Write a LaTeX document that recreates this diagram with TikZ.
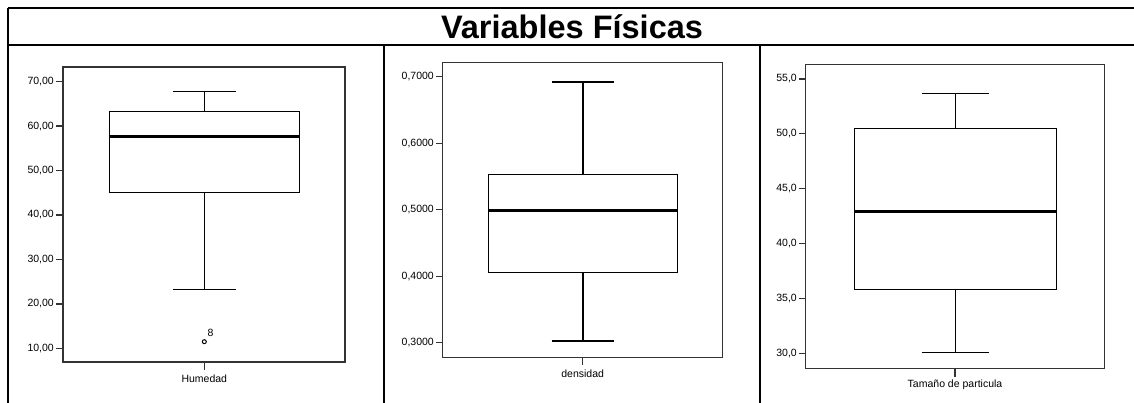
\documentclass[tikz,border=0pt]{standalone}
\usepackage{fontspec}
\setmainfont{Liberation Sans}

\begin{document}
\begin{tikzpicture}[x = 1pt, y = -1pt,
    rule/.style = {line width = 2pt, black},
    frame/.style = {line width = 1.2pt, black!80},
    boxline/.style = {line width = 1pt, black},
    median/.style = {line width = 3pt, black},
    ticklab/.style = {anchor = east, inner sep = 0pt, font = \fontsize{10.5}{12}\selectfont},
    axislab/.style = {inner sep = 0pt, font = \fontsize{10.5}{12}\selectfont}]
\useasboundingbox (0,0) rectangle (1134,403);

% table
\draw [rule] (8,8) -- (1134,8);
\draw [rule] (8,45) -- (1134,45);
\draw [rule] (8,8) -- (8,403);
\draw [rule] (384,45) -- (384,403);
\draw [rule] (760,45) -- (760,403);
\node (title) [font = \bfseries\fontsize{32.5}{35}\selectfont] at (572,27) {Variables Físicas};

% Humedad
\draw [frame] (63,67) rectangle (345,362);
\draw [frame] (56,81.7) -- (63,81.7);   \node (h70) [ticklab] at (54,81.7) {70,00};
\draw [frame] (56,126.1) -- (63,126.1); \node (h60) [ticklab] at (54,126.1) {60,00};
\draw [frame] (56,170.6) -- (63,170.6); \node (h50) [ticklab] at (54,170.6) {50,00};
\draw [frame] (56,215) -- (63,215);     \node (h40) [ticklab] at (54,215) {40,00};
\draw [frame] (56,259.4) -- (63,259.4); \node (h30) [ticklab] at (54,259.4) {30,00};
\draw [frame] (56,303.9) -- (63,303.9); \node (h20) [ticklab] at (54,303.9) {20,00};
\draw [frame] (56,348.3) -- (63,348.3); \node (h10) [ticklab] at (54,348.3) {10,00};
\draw [boxline] (204.3,111.7) -- (204.3,91.7);
\draw [boxline] (173,91.7) -- (236,91.7);
\draw [boxline] (204.3,192.3) -- (204.3,289.3);
\draw [boxline] (173,289.3) -- (236,289.3);
\draw [boxline, fill = white] (109.3,111.7) rectangle (299.3,192.3);
\draw [median] (109.3,136.7) -- (299.3,136.7);
\draw [boxline] (204.3,341.7) circle [radius = 2];
\node (hout) [axislab] at (210.5,333) {8};
\draw [frame] (204.3,362) -- (204.3,370);
\node (hlab) [axislab] at (204.3,378.5) {Humedad};

% densidad
\draw [frame] (442.7,62.3) rectangle (722.7,357.7);
\draw [frame] (436,76.7) -- (442.7,76.7);   \node (d7) [ticklab] at (434,76.7) {0,7000};
\draw [frame] (436,143.2) -- (442.7,143.2); \node (d6) [ticklab] at (434,143.2) {0,6000};
\draw [frame] (436,209.7) -- (442.7,209.7); \node (d5) [ticklab] at (434,209.7) {0,5000};
\draw [frame] (436,276.2) -- (442.7,276.2); \node (d4) [ticklab] at (434,276.2) {0,4000};
\draw [frame] (436,342.7) -- (442.7,342.7); \node (d3) [ticklab] at (434,342.7) {0,3000};
\draw [boxline, line width = 1.6pt] (582.7,174.7) -- (582.7,82);
\draw [boxline, line width = 1.6pt] (551.7,82) -- (614.3,82);
\draw [boxline, line width = 1.6pt] (582.7,272.3) -- (582.7,340.7);
\draw [boxline, line width = 1.6pt] (551.7,340.7) -- (614.3,340.7);
\draw [boxline, fill = white] (488.7,174.7) rectangle (677.3,272.3);
\draw [median] (488.7,211) -- (677.3,211);
\draw [frame] (582.7,357.7) -- (582.7,365);
\node (dlab) [axislab] at (582.7,374) {densidad};

% Tamano de particula
\draw [frame] (805.7,64.3) rectangle (1104.3,368.3);
\draw [frame] (798.7,79) -- (805.7,79);       \node (t55) [ticklab] at (797,79) {55,0};
\draw [frame] (798.7,133.9) -- (805.7,133.9); \node (t50) [ticklab] at (797,133.9) {50,0};
\draw [frame] (798.7,188.9) -- (805.7,188.9); \node (t45) [ticklab] at (797,188.9) {45,0};
\draw [frame] (798.7,243.8) -- (805.7,243.8); \node (t40) [ticklab] at (797,243.8) {40,0};
\draw [frame] (798.7,298.8) -- (805.7,298.8); \node (t35) [ticklab] at (797,298.8) {35,0};
\draw [frame] (798.7,353.7) -- (805.7,353.7); \node (t30) [ticklab] at (797,353.7) {30,0};
\draw [boxline] (955,129) -- (955,93.7);
\draw [boxline, line width = 1.4pt] (921.7,93.7) -- (989,93.7);
\draw [boxline] (955,289.7) -- (955,352.3);
\draw [boxline] (921.7,352.3) -- (989,352.3);
\draw [boxline, fill = white] (854.3,129) rectangle (1056,289.7);
\draw [median] (854.3,212) -- (1056,212);
\draw [frame] (955,368.3) -- (955,376.7);
\node (tlab) [axislab] at (955,385) {Tamaño de particula};
\end{tikzpicture}
\end{document}
